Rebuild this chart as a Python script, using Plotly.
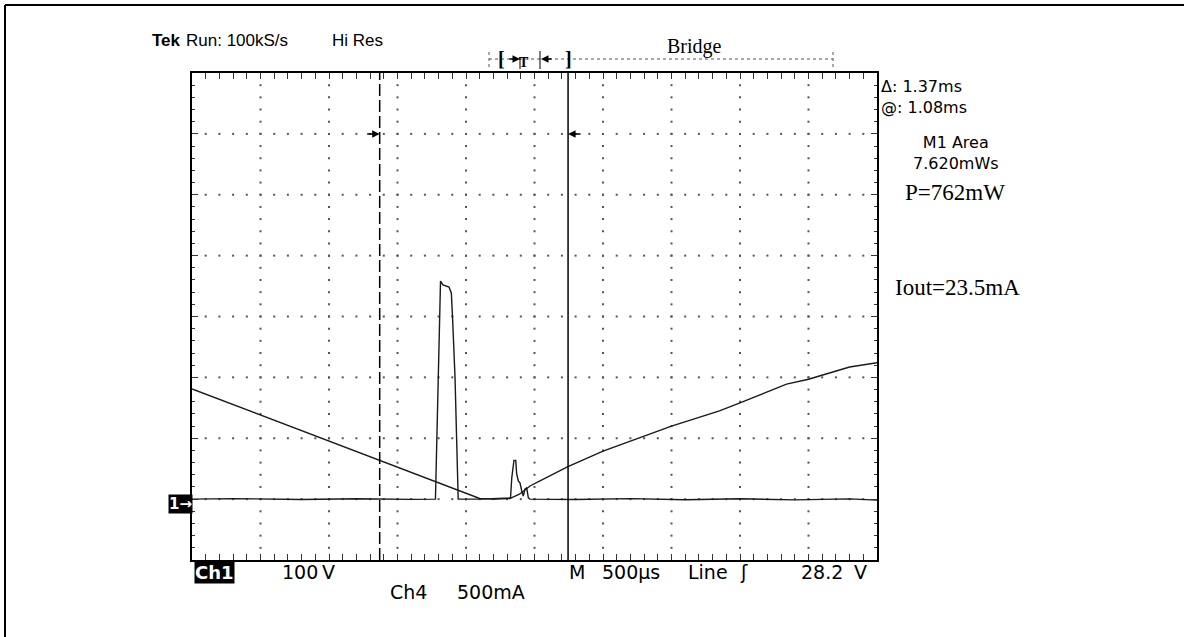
import numpy as np
import plotly.graph_objects as go

# Ch1 trace (V), time in ms across the 10-division (500 us/div) screen
ch1_t = [0.00, 0.42, 0.79, 1.15, 1.37, 1.77, 1.93, 2.10, 2.21, 2.32, 2.39, 2.47,
         2.54, 2.64, 2.74, 3.00, 3.22, 3.50, 3.85, 4.00, 4.34, 4.50, 4.80, 5.00]
ch1_v = [181, 145, 114, 82, 64, 30, 15, 1, 0, 1, 8, 22,
         30, 41, 53, 79, 97, 120, 145, 158, 189, 197, 217, 224]

# Ch4 trace (mA)
ch4_t = [0.00, 0.30, 0.80, 1.20, 1.60, 1.777, 1.814, 1.832, 1.876, 1.893, 1.902,
         1.920, 1.932, 1.943, 2.10, 2.325, 2.334, 2.350, 2.363, 2.370, 2.382,
         2.394, 2.407, 2.418, 2.431, 2.443, 2.455, 2.467, 2.80, 3.20, 3.60,
         4.00, 4.40, 4.80, 5.00]
ch4_i = [0, 4, -3, 3, -2, 0, 1791, 1759, 1742, 1693, 1488,
         995, 478, 0, 0, 10, 174, 318, 318, 207, 149,
         133, 67, 26, 84, 92, 10, 0, -3, 4, -5,
         3, -6, 2, -8]

cursor_t = [1.37, 2.745]            # dashed / solid time cursors (ms)
record_span = [2.168, 4.679]        # record-view bar (ms)

header_texts = ["Run: 100kS/s", "Hi Res"]
meas_texts = ["\u0394: 1.37ms", "@: 1.08ms", "M1 Area", "7.620mWs"]
note_texts = ["P=762mW", "Iout=23.5mA"]
bottom_texts = ["100", "V", "M", "500\u00b5s", "Line", "\u0283", "28.2", "V", "Ch4", "500mA"]

# ---------------- figure ----------------
W, H = 1184, 637
L, R, T, B = 192, 307, 73, 77
PW, PH = W - L - R, H - T - B

def px(xp):  # pixel -> paper x
    return (xp - L) / PW

def py(yp):  # pixel -> paper y
    return (H - B - yp) / PH

fig = go.Figure()

# dotted graticule
gx, gy = [], []
for v in np.arange(0, 601, 100):
    for t in np.arange(0.1, 4.95, 0.1):
        gx.append(t); gy.append(v)
for t in np.arange(0.5, 4.6, 0.5):
    for v in np.arange(-80, 690, 20):
        gx.append(t); gy.append(v)
fig.add_trace(go.Scatter(x=gx, y=gy, mode="markers", hoverinfo="skip",
                         marker=dict(symbol="square", size=2, color="#555",
                                     line=dict(width=0)),
                         showlegend=False))

fig.add_trace(go.Scatter(x=ch1_t, y=ch1_v, mode="lines",
                         line=dict(color="#1a1a1a", width=1.4), showlegend=False))
fig.add_trace(go.Scatter(x=ch4_t, y=ch4_i, mode="lines", yaxis="y2",
                         line=dict(color="#1a1a1a", width=1.4), showlegend=False))

axis_common = dict(showticklabels=False, showgrid=False, zeroline=False,
                   showline=True, linecolor="black", linewidth=2,
                   mirror="allticks", ticks="inside", tickcolor="#333",
                   ticklen=6, tickwidth=1)
fig.update_layout(
    width=W, height=H, margin=dict(l=L, r=R, t=T, b=B),
    paper_bgcolor="white", plot_bgcolor="white",
    xaxis=dict(range=[0, 5], tick0=0, dtick=0.5,
               minor=dict(ticks="inside", dtick=0.1, ticklen=3,
                          tickcolor="#333", tickwidth=1), **axis_common),
    yaxis=dict(range=[-100, 700], tick0=0, dtick=100,
               minor=dict(ticks="inside", dtick=20, ticklen=3,
                          tickcolor="#333", tickwidth=1), **axis_common),
    yaxis2=dict(range=[-500, 3500], overlaying="y", visible=False),
)

shapes = []
# cursors
shapes.append(dict(type="line", xref="x", yref="paper", x0=cursor_t[0], x1=cursor_t[0],
                   y0=0, y1=1, line=dict(color="black", width=1.5, dash="12px,4px")))
shapes.append(dict(type="line", xref="x", yref="paper", x0=cursor_t[1], x1=cursor_t[1],
                   y0=0, y1=1, line=dict(color="black", width=1.5)))
# record-view bar
yb = py(59)
shapes.append(dict(type="line", xref="x", yref="paper", x0=record_span[0], x1=record_span[1],
                   y0=yb, y1=yb, line=dict(color="#555", width=1, dash="dot")))
for xs in record_span:
    shapes.append(dict(type="line", xref="x", yref="paper", x0=xs, x1=xs,
                       y0=py(67), y1=py(51), line=dict(color="#555", width=1, dash="dot")))
shapes.append(dict(type="line", xref="paper", yref="paper", x0=px(520), x1=px(520),
                   y0=py(69), y1=py(57), line=dict(color="black", width=1)))
shapes.append(dict(type="line", xref="paper", yref="paper", x0=px(540), x1=px(540),
                   y0=py(69), y1=py(51), line=dict(color="black", width=1)))
# outer frame (top + left)
shapes.append(dict(type="line", xref="paper", yref="paper", x0=px(5), x1=px(W + 5),
                   y0=py(5), y1=py(5), line=dict(color="black", width=2)))
shapes.append(dict(type="line", xref="paper", yref="paper", x0=px(5), x1=px(5),
                   y0=py(5), y1=py(H + 5), line=dict(color="black", width=2)))
fig.update_layout(shapes=shapes)

ann = []
def txt(x, y, s, size, family="Liberation Sans", xanchor="left", color="black",
        bg=None, bold=False, align="left"):
    d = dict(xref="paper", yref="paper", x=px(x), y=py(y), text=(f"<b>{s}</b>" if bold else s),
             showarrow=False, xanchor=xanchor, yanchor="middle", align=align,
             font=dict(family=family, size=size, color=color))
    if bg:
        d.update(bgcolor=bg, borderpad=0)
    ann.append(d)

SANS = "DejaVu Sans"
SERIF = "Liberation Serif"
txt(150, 41, "Tek", 17, bold=True)
txt(184, 41, header_texts[0], 17)
txt(330, 41, header_texts[1], 17)
txt(694, 46, "Bridge", 20, family=SERIF, xanchor="center")
txt(501, 59, "<b>[</b>", 20, family=SERIF, xanchor="center")
txt(568, 59, "<b>]</b>", 20, family=SERIF, xanchor="center")
txt(524, 62, "T", 14, family=SERIF, xanchor="center", bold=True)

txt(879, 97, meas_texts[0] + "<br>" + meas_texts[1], 16, family=SANS)
txt(956, 153, meas_texts[2] + "<br>" + meas_texts[3], 16, family=SANS,
    xanchor="center", align="center")
txt(955, 192, note_texts[0], 23, family=SERIF, xanchor="center")
txt(957, 287, note_texts[1], 23, family=SERIF, xanchor="center")

txt(194, 572, "<b>Ch1</b>", 18, family=SANS, color="white", bg="black")
txt(280, 572, bottom_texts[0], 19, family=SANS)
txt(320, 572, bottom_texts[1], 19, family=SANS)
txt(567, 572, bottom_texts[2], 19, family=SANS)
txt(600, 572, bottom_texts[3], 19, family=SANS)
txt(686, 572, bottom_texts[4], 19, family=SANS)
txt(738, 572, bottom_texts[5], 19, family=SANS)
txt(799, 572, bottom_texts[6], 19, family=SANS)
txt(852, 572, bottom_texts[7], 19, family=SANS)
txt(388, 592, bottom_texts[8], 19, family=SANS)
txt(455, 592, bottom_texts[9], 19, family=SANS)

# ground marker
txt(193, 504, "<b>1\u2192</b>", 15, family=SANS, xanchor="right", color="white", bg="black")

# cursor arrows at 600 V
ann.append(dict(xref="x", yref="y", x=cursor_t[0], y=600, ax=-14, ay=0, text="",
                showarrow=True, arrowhead=2, arrowsize=1, arrowwidth=1.5, arrowcolor="black"))
ann.append(dict(xref="x", yref="y", x=cursor_t[1], y=600, ax=14, ay=0, text="",
                showarrow=True, arrowhead=2, arrowsize=1, arrowwidth=1.5, arrowcolor="black"))
# record-view arrows
ann.append(dict(xref="paper", yref="paper", x=px(520), y=py(59), ax=-12, ay=0, text="",
                showarrow=True, arrowhead=2, arrowsize=1, arrowwidth=1.5, arrowcolor="black"))
ann.append(dict(xref="paper", yref="paper", x=px(541), y=py(59), ax=12, ay=0, text="",
                showarrow=True, arrowhead=2, arrowsize=1, arrowwidth=1.5, arrowcolor="black"))
fig.update_layout(annotations=ann)

fig.write_html("out.html", config={"displayModeBar": False},
               post_script="document.body.style.margin='0px';document.body.style.overflow='hidden';")
